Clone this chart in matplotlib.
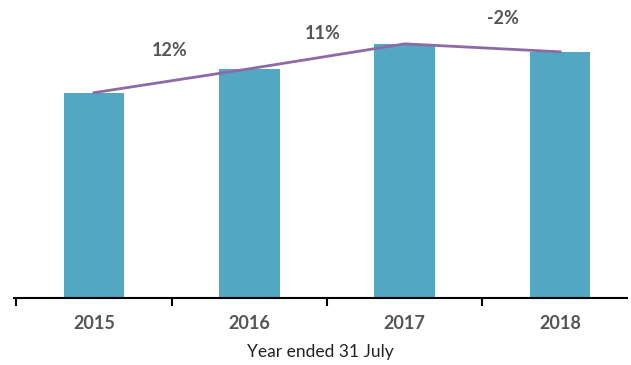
import matplotlib.pyplot as plt
from matplotlib.ticker import FixedLocator

# === DATA ===
years = ["2015", "2016", "2017", "2018"]
revenue = [206, 230, 255, 247]
growth_labels = ["12%", "11%", "-2%"]

BAR_COLOR = "#52a8c2"
LINE_COLOR = "#8c6aa6"
TEXT_COLOR = "#555555"

plt.rcParams["font.family"] = ["Lato", "DejaVu Sans"]

# === PLOT ===
fig = plt.figure(figsize=(6.31, 3.65), dpi=100)
ax = fig.add_axes([14 / 631, 67 / 365, 613 / 631, 298 / 365])

x = list(range(len(years)))
ax.bar(x, revenue, width=0.39, color=BAR_COLOR, zorder=2)
ax.plot(x, revenue, color=LINE_COLOR, linewidth=2, zorder=3)

# growth labels placed between bars (layout only)
label_pos = [(0.49, 248), (1.47, 265), (2.63, 280)]
for (lx, ly), lab in zip(label_pos, growth_labels):
    ax.text(lx, ly, lab, ha="center", va="center", fontsize=13,
            fontweight="bold", color=TEXT_COLOR)

ax.set_xlim(-0.515, 3.43)
ax.set_ylim(0, 299)

for s in ["top", "right", "left"]:
    ax.spines[s].set_visible(False)
ax.spines["bottom"].set_linewidth(1.5)
ax.spines["bottom"].set_color("black")
ax.set_yticks([])

ax.xaxis.set_major_locator(FixedLocator([-0.5, 0.5, 1.5, 2.5]))
ax.xaxis.set_major_formatter(plt.NullFormatter())
ax.set_xticks(x, minor=True)
ax.set_xticklabels(years, minor=True, fontsize=13, fontweight="bold", color=TEXT_COLOR)
ax.tick_params(axis="x", which="major", direction="out", length=6, width=1.5, color="black")
ax.tick_params(axis="x", which="minor", length=0, pad=12)

ax.set_xlabel("Year ended 31 July", fontsize=12.5, color="#222222", labelpad=9)

# === SAVE OUTPUT ===
plt.savefig("out.png", dpi=100)
